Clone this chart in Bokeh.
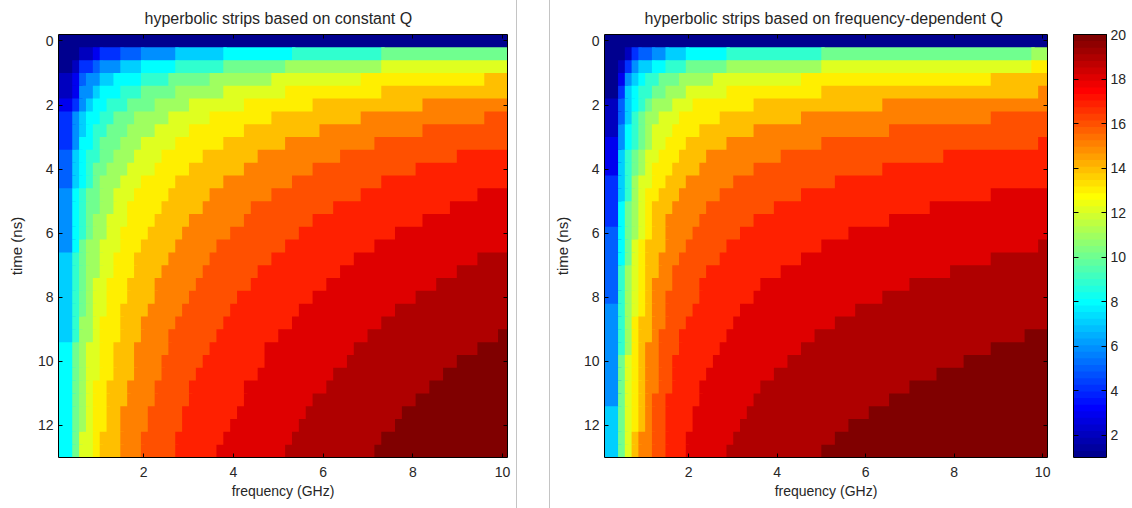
import numpy as np
from bokeh.embed import file_html
from bokeh.resources import INLINE
from bokeh.plotting import figure
from bokeh.models import (Range1d, LinearAxis, FixedTicker, ColumnDataSource, Div, Spacer, Title)
from bokeh.layouts import row

TITLE_A = "hyperbolic strips based on constant Q"
TITLE_B = "hyperbolic strips based on frequency-dependent Q"
X_LABEL = "frequency (GHz)"
Y_LABEL = "time (ns)"
X_TICKS = [2, 4, 6, 8, 10]
Y_TICKS = [0, 2, 4, 6, 8, 10, 12]
CB_TICKS = [2, 4, 6, 8, 10, 12, 14, 16, 18, 20]
LEVEL_LOW, LEVEL_HIGH = 1, 20
F_START, F_STEP, F_END = 0.1, 0.1531, 10.11
T_START, T_STEP, T_END = -0.2, 0.4, 13.0

# for every time row: column index at which level 1, 2, 3 ... ends
CONST_Q_ENDS = [
    [66],
    [3,5,6,9,12,17,24,34,47,66],
    [2,3,3,5,6,9,12,17,24,33,47,66],
    [0,2,3,3,4,6,8,12,16,22,31,44,62,66],
    [0,2,3,3,3,5,6,9,12,17,24,33,47,66],
    [0,0,2,3,3,4,5,7,10,14,19,27,37,53,66],
    [0,0,0,2,2,3,4,6,8,11,16,22,31,44,62,66],
    [0,0,0,2,2,3,4,5,7,10,14,19,27,38,53,66],
    [0,0,0,2,2,3,3,5,6,9,12,17,24,33,46,66],
    [0,0,0,0,2,2,3,4,6,8,11,15,21,29,41,58,66],
    [0,0,0,0,2,2,3,4,5,7,10,14,19,27,37,52,66],
    [0,0,0,0,2,2,3,4,5,6,9,12,17,24,34,47,66],
    [0,0,0,0,0,2,2,3,4,6,8,11,16,22,31,44,61,66],
    [0,0,0,0,0,2,2,3,4,6,8,10,15,21,28,40,57,66],
    [0,0,0,0,0,2,2,3,4,5,7,10,14,19,27,37,53,66],
    [0,0,0,0,0,2,2,3,4,5,7,9,13,18,25,35,49,66],
    [0,0,0,0,0,2,2,3,3,4,6,9,12,17,23,33,46,66],
    [0,0,0,0,0,0,2,2,3,4,6,8,11,16,22,31,43,61,66],
    [0,0,0,0,0,0,2,2,3,4,6,8,11,15,21,29,41,58,66],
    [0,0,0,0,0,0,2,2,3,4,5,7,10,14,20,28,39,55,66],
    [0,0,0,0,0,0,2,2,3,4,5,7,10,14,19,26,37,52,66],
    [0,0,0,0,0,0,2,2,3,4,5,7,9,13,18,25,35,49,66],
    [0,0,0,0,0,0,2,2,3,3,5,6,9,12,17,24,34,47,66],
    [0,0,0,0,0,0,2,2,3,3,5,6,9,12,16,23,32,45,64,66],
    [0,0,0,0,0,0,0,2,2,3,4,6,8,11,16,22,30,43,61,66],
    [0,0,0,0,0,0,0,2,2,3,4,6,8,11,15,21,30,42,58,66],
    [0,0,0,0,0,0,0,2,2,3,4,6,8,11,15,20,29,40,56,66],
    [0,0,0,0,0,0,0,2,2,3,4,5,7,10,14,19,27,39,54,66],
    [0,0,0,0,0,0,0,2,2,3,4,5,7,10,14,19,27,37,52,66],
    [0,0,0,0,0,0,0,2,2,3,4,5,7,9,13,18,26,36,50,66],
    [0,0,0,0,0,0,0,2,2,3,4,5,7,9,13,18,25,35,49,66],
    [0,0,0,0,0,0,0,2,2,3,3,5,6,9,12,17,24,34,47,66],
    [0,0,0,0,0,0,0,2,2,3,3,5,6,9,12,17,23,33,46,66],
]
FREQ_Q_ENDS = [
    [66],
    [3,4,4,5,7,9,12,18,32,63,66],
    [2,3,3,4,4,5,7,9,12,18,32,63,66],
    [2,2,3,3,3,4,5,6,8,11,16,29,57,66],
    [2,2,2,3,3,3,4,5,7,9,12,18,32,64,66],
    [0,2,2,2,3,3,4,5,6,7,10,13,22,41,66],
    [0,2,2,2,3,3,4,4,5,6,8,11,17,29,57,66],
    [0,2,2,2,2,3,3,4,5,6,7,10,14,22,42,66],
    [0,0,2,2,2,3,3,4,5,6,7,9,12,18,32,64,66],
    [0,0,2,2,2,2,3,3,4,5,6,8,11,15,26,50,66],
    [0,0,2,2,2,2,3,3,4,5,6,7,10,14,22,41,66],
    [0,0,0,2,2,2,3,3,4,4,5,7,9,12,19,34,66],
    [0,0,0,2,2,2,3,3,4,4,5,6,8,11,17,29,57,66],
    [0,0,0,2,2,2,2,3,3,4,5,6,7,10,15,25,48,66],
    [0,0,0,2,2,2,2,3,3,4,5,6,7,9,14,22,42,66],
    [0,0,0,0,2,2,2,3,3,4,5,6,7,9,13,20,36,66],
    [0,0,0,0,2,2,2,3,3,4,4,5,6,9,12,18,32,64,66],
    [0,0,0,0,2,2,2,3,3,4,4,5,6,8,11,17,29,57,66],
    [0,0,0,0,2,2,2,2,3,3,4,5,6,8,10,15,26,51,66],
    [0,0,0,0,2,2,2,2,3,3,4,5,6,7,10,14,23,45,66],
    [0,0,0,0,2,2,2,2,3,3,4,5,6,7,9,14,22,41,66],
    [0,0,0,0,0,2,2,2,3,3,4,5,6,7,9,13,20,37,66],
    [0,0,0,0,0,2,2,2,3,3,4,4,5,7,9,12,19,34,66],
    [0,0,0,0,0,2,2,2,3,3,4,4,5,7,8,11,18,31,62,66],
    [0,0,0,0,0,2,2,2,3,3,4,4,5,6,8,11,17,29,57,66],
    [0,0,0,0,0,2,2,2,2,3,3,4,5,6,8,10,16,27,53,66],
    [0,0,0,0,0,2,2,2,2,3,3,4,5,6,8,10,15,25,49,66],
    [0,0,0,0,0,2,2,2,2,3,3,4,5,6,8,10,14,23,45,66],
    [0,0,0,0,0,2,2,2,2,3,3,4,5,6,7,9,14,22,42,66],
    [0,0,0,0,0,0,2,2,2,3,3,4,5,6,7,9,13,21,39,66],
    [0,0,0,0,0,0,2,2,2,3,3,4,5,6,7,9,13,20,36,66],
    [0,0,0,0,0,0,2,2,2,3,3,4,4,5,7,9,12,19,34,66],
    [0,0,0,0,0,0,2,2,2,3,3,4,4,5,7,9,12,18,32,66],
]


def jet64():
    out = []
    for i in range(64):
        v = 4 * (i + 1) / 64
        r = np.clip(min(v - 1.5, 4.5 - v), 0, 1)
        g = np.clip(min(v - 0.5, 3.5 - v), 0, 1)
        b = np.clip(min(v + 0.5, 2.5 - v), 0, 1)
        out.append("#%02x%02x%02x" % (round(r * 255), round(g * 255), round(b * 255)))
    return out


PALETTE = jet64()
INK = "#262626"
FONT = "Liberation Sans"


def level_colour(level):
    i = int((level - LEVEL_LOW) / (LEVEL_HIGH - LEVEL_LOW) * 64)
    return PALETTE[min(i, 63)]


def to_runs(ends):
    # each run overlaps the next run and the next row slightly, so no seams show
    d = dict(left=[], right=[], top=[], bottom=[], color=[])
    for r, line in enumerate(ends):
        prev = 0
        for i, e in enumerate(line):
            if e > prev:
                d["left"].append(F_START + prev * F_STEP)
                d["right"].append(min(F_END, F_START + (e + 0.5) * F_STEP) if e < 66 else F_END)
                d["top"].append(T_START + r * T_STEP)
                d["bottom"].append(min(T_END, T_START + (r + 1.5) * T_STEP))
                d["color"].append(level_colour(LEVEL_LOW + i))
                prev = e
    return ColumnDataSource(d)


def style_axes(p, ticklen):
    for ax in p.axis:
        ax.major_tick_in = ticklen
        ax.major_tick_out = 0
        ax.minor_tick_line_color = None
        ax.axis_line_color = "#000000"
        ax.major_tick_line_color = "#000000"
        ax.major_label_text_font = FONT
        ax.major_label_text_font_size = "14px"
        ax.major_label_text_color = INK
        ax.axis_label_text_font = FONT
        ax.axis_label_text_font_size = "14px"
        ax.axis_label_text_font_style = "normal"
        ax.axis_label_text_color = INK


def hide_labels(ax):
    ax.major_label_text_color = None
    ax.major_label_text_font_size = "1px"
    ax.major_label_standoff = 0


def heat(ends, title, width, left_border, right_border, title_offset):
    p = figure(width=width, height=508, output_backend="svg", toolbar_location=None,
               x_range=Range1d(F_START, F_END), y_range=Range1d(T_END, T_START),
               min_border_left=left_border, min_border_right=right_border, min_border_top=34,
               min_border_bottom=51, outline_line_color=None, title=None)
    p.grid.visible = False
    p.quad(left="left", right="right", top="top", bottom="bottom", fill_color="color",
           line_color=None, source=to_runs(ends))
    p.add_layout(LinearAxis(ticker=FixedTicker(ticks=X_TICKS)), "above")
    p.add_layout(LinearAxis(ticker=FixedTicker(ticks=Y_TICKS)), "right")
    p.below[0].ticker = FixedTicker(ticks=X_TICKS)
    p.left[0].ticker = FixedTicker(ticks=Y_TICKS)
    p.below[0].axis_label = X_LABEL
    p.left[0].axis_label = Y_LABEL
    style_axes(p, 4)
    hide_labels(p.above[0])
    hide_labels(p.right[0])
    p.above[0].major_label_standoff = 3
    p.below[0].major_label_standoff = 9
    p.left[0].major_label_standoff = 5
    p.below[0].axis_label_standoff = 3
    p.left[0].axis_label_standoff = 10
    p.left[0].axis_label_text_font_size = "15px"
    t = Title(text=title, align="left", offset=title_offset, text_font=FONT, text_font_size="16px",
              text_font_style="normal", text_color=INK, standoff=12, vertical_align="top")
    p.add_layout(t, "above")
    return p


left = heat(CONST_Q_ENDS, TITLE_A, 516, 58, 9, 86)
right = heat(FREQ_Q_ENDS, TITLE_B, 510, 50, 13, 40)

cb = figure(width=72, height=508, output_backend="svg", toolbar_location=None,
            x_range=Range1d(0, 1), y_range=Range1d(LEVEL_LOW, LEVEL_HIGH),
            min_border_left=13, min_border_right=26, min_border_top=34, min_border_bottom=51,
            outline_line_color=None, x_axis_location=None, y_axis_location="right")
cb.grid.visible = False
cb_src = ColumnDataSource(dict(
    bottom=[LEVEL_LOW + (LEVEL_HIGH - LEVEL_LOW) * i / 64 for i in range(64)],
    top=[LEVEL_HIGH] * 64, left=[0] * 64, right=[1] * 64, color=PALETTE))
cb.quad(left="left", right="right", top="top", bottom="bottom", fill_color="color",
        line_color=None, source=cb_src)
cb.add_layout(LinearAxis(ticker=FixedTicker(ticks=CB_TICKS)), "left")
cb.add_layout(LinearAxis(ticker=FixedTicker(ticks=[])), "above")
cb.add_layout(LinearAxis(ticker=FixedTicker(ticks=[])), "below")
cb.right[0].ticker = FixedTicker(ticks=CB_TICKS)
style_axes(cb, 5)
hide_labels(cb.left[0])
hide_labels(cb.above[0])
hide_labels(cb.below[0])
cb.right[0].major_label_standoff = 4


def rule():
    return Div(text="", width=1, height=508, margin=(0, 0, 0, 0),
               styles={"background-color": "#c4c4c4"})


page = row(left, rule(), Spacer(width=32, height=508), rule(), right, cb, spacing=0)
open("out.html", "w").write(file_html(page, INLINE))
